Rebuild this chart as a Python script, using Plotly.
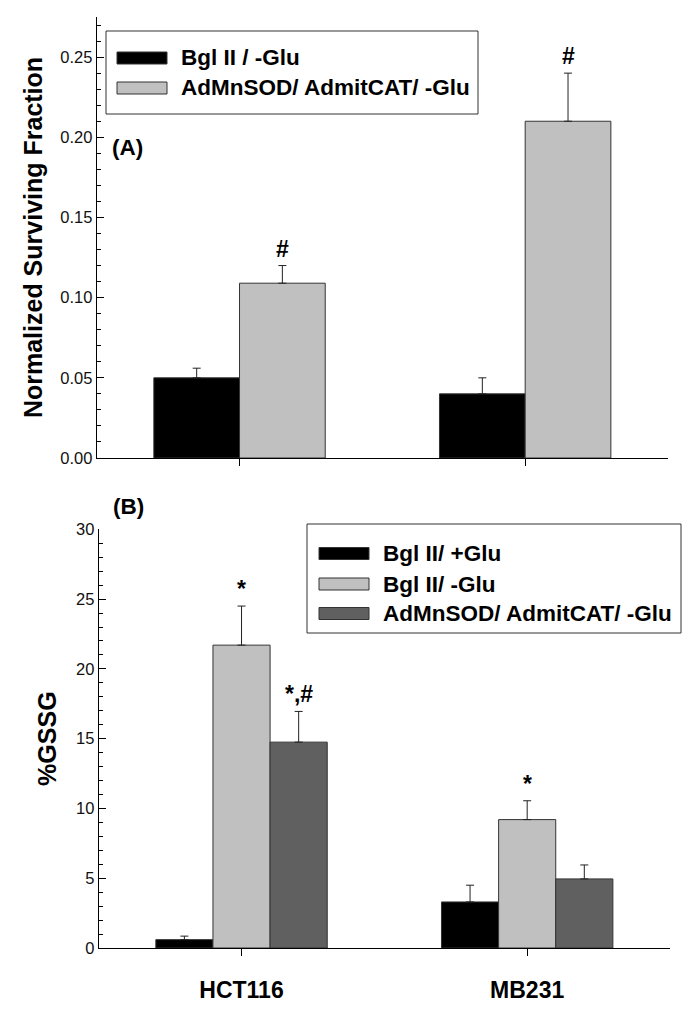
import plotly.graph_objects as go

# page has an 8px body margin; size the figure so it fills the 699x1029 window
OFF = 8
W, H = 699 - OFF, 1029 - OFF

# ---------------- data ----------------
cells = ["HCT116", "MB231"]
cell_pos = [0, 1]

a_series = ["Bgl II / -Glu", "AdMnSOD/ AdmitCAT/ -Glu"]
a_values = [[0.050, 0.040], [0.109, 0.210]]
a_errors = [[0.006, 0.010], [0.011, 0.030]]
a_colors = ["#000000", "#c0c0c0"]
a_marks = [["", ""], ["#", "#"]]

b_series = ["Bgl II/ +Glu", "Bgl II/ -Glu", "AdMnSOD/ AdmitCAT/ -Glu"]
b_values = [[0.6, 3.3], [21.7, 9.2], [14.75, 4.95]]
b_errors = [[0.25, 1.2], [2.8, 1.35], [2.2, 1.0]]
b_colors = ["#000000", "#c0c0c0", "#606060"]
b_marks = [["", ""], ["*", "*"], ["*,#", ""]]

a_ticks = [0.00, 0.05, 0.10, 0.15, 0.20, 0.25]
b_ticks = [0, 5, 10, 15, 20, 25, 30]

FONT = "Liberation Sans, Arial, sans-serif"


def px(x):
    return (x - OFF) / W


def py(y):
    return 1 - (y - OFF) / H


fig = go.Figure()

# Panel A bars
for i, name in enumerate(a_series):
    fig.add_trace(go.Bar(
        x=cell_pos, y=a_values[i], name=name, offsetgroup=str(i),
        marker=dict(color=a_colors[i], line=dict(color="#333333", width=1)),
        error_y=dict(type="data", array=a_errors[i], arrayminus=[0] * len(cells),
                     symmetric=False, color="#222222", thickness=1, width=4),
        xaxis="x", yaxis="y", showlegend=False))

# Panel B bars
for i, name in enumerate(b_series):
    fig.add_trace(go.Bar(
        x=cell_pos, y=b_values[i], name=name, offsetgroup=str(i),
        marker=dict(color=b_colors[i], line=dict(color="#333333", width=1)),
        error_y=dict(type="data", array=b_errors[i], arrayminus=[0] * len(cells),
                     symmetric=False, color="#222222", thickness=1, width=4),
        xaxis="x2", yaxis="y2", showlegend=False))

axis_common = dict(showline=True, linecolor="#000000", linewidth=1, showgrid=False,
                   zeroline=False, mirror=False, automargin=False)

fig.update_layout(
    template="none",
    width=W, height=H,
    margin=dict(l=0, r=0, t=0, b=0),
    paper_bgcolor="white", plot_bgcolor="white",
    barmode="group", bargap=0.4, bargroupgap=0,
    font=dict(family=FONT, color="#000000"),
    xaxis=dict(**axis_common, domain=[px(96.7), px(668)], range=[-0.5, 1.5],
               tickvals=cell_pos, ticktext=["", ""], ticks="outside", ticklen=7,
               tickcolor="#000000", anchor="y"),
    yaxis=dict(**axis_common, domain=[py(458), py(17)], range=[0, 0.275],
               tickvals=a_ticks, ticktext=[f"{v:.2f}" for v in a_ticks],
               ticks="inside", ticklen=7, tickcolor="#000000",
               minor=dict(dtick=0.01, ticks="inside", ticklen=4, tickcolor="#000000"),
               tickfont=dict(size=16.5, color="#111111"), anchor="x",
               title=dict(text="<b>Normalized Surviving Fraction</b>",
                          font=dict(size=25), standoff=10)),
    xaxis2=dict(**axis_common, domain=[px(98.7), px(670)], range=[-0.5, 1.5],
                tickvals=cell_pos, ticktext=[f"<b>{c}</b>" for c in cells],
                ticks="outside", ticklen=7, tickcolor="#000000",
                tickfont=dict(size=23), ticklabelstandoff=14, anchor="y2"),
    yaxis2=dict(**axis_common, domain=[py(948), py(529.3)], range=[0, 30],
                tickvals=b_ticks, ticks="inside", ticklen=7, tickcolor="#000000",
                minor=dict(dtick=1, ticks="inside", ticklen=4, tickcolor="#000000"),
                tickfont=dict(size=16.5, color="#111111"), anchor="x2",
                title=dict(text="<b>%GSSG</b>", font=dict(size=25), standoff=12)),
)

# significance marks
a_off = [-0.15, 0.15]
for i in range(len(a_series)):
    for j, c in enumerate(cell_pos):
        if a_marks[i][j]:
            fig.add_annotation(x=c + a_off[i], y=a_values[i][j] + a_errors[i][j],
                               xref="x", yref="y", text=f"<b>{a_marks[i][j]}</b>",
                               showarrow=False, yanchor="bottom", yshift=2,
                               font=dict(size=23, family=FONT))
b_off = [-0.2, 0.0, 0.2]
for i in range(len(b_series)):
    for j, c in enumerate(cell_pos):
        if b_marks[i][j]:
            fig.add_annotation(x=c + b_off[i], y=b_values[i][j] + b_errors[i][j],
                               xref="x2", yref="y2", text=f"<b>{b_marks[i][j]}</b>",
                               showarrow=False, yanchor="bottom", yshift=2,
                               font=dict(size=23, family=FONT))

# panel labels
fig.add_annotation(x=px(110), y=py(147), xref="paper", yref="paper", text="<b>(A)</b>",
                   showarrow=False, xanchor="left", yanchor="middle", font=dict(size=22.5))
fig.add_annotation(x=px(111), y=py(506), xref="paper", yref="paper", text="<b>(B)</b>",
                   showarrow=False, xanchor="left", yanchor="middle", font=dict(size=22.5))


# manual legends
def legend(box, names, colors, rows_y, sw_x0, sw_x1, text_x, sw_h=12):
    x0, y0, x1, y1 = box
    fig.add_shape(type="rect", xref="paper", yref="paper", x0=px(x0), x1=px(x1),
                  y0=py(y1), y1=py(y0), line=dict(color="#333333", width=1),
                  fillcolor="white")
    for name, col, yc in zip(names, colors, rows_y):
        fig.add_shape(type="rect", xref="paper", yref="paper", x0=px(sw_x0), x1=px(sw_x1),
                      y0=py(yc + sw_h / 2), y1=py(yc - sw_h / 2),
                      line=dict(color="#333333", width=1), fillcolor=col)
        fig.add_annotation(x=px(text_x), y=py(yc), xref="paper", yref="paper",
                           text=f"<b>{name}</b>", showarrow=False, xanchor="left",
                           yanchor="middle", font=dict(size=22.5))


legend((106, 31, 478, 114), a_series, a_colors, [58, 88], 117, 167, 179)
legend((307, 524, 681, 633), b_series, b_colors, [553.5, 584, 613.5], 319, 369, 381)

fig.write_html("out.html")
